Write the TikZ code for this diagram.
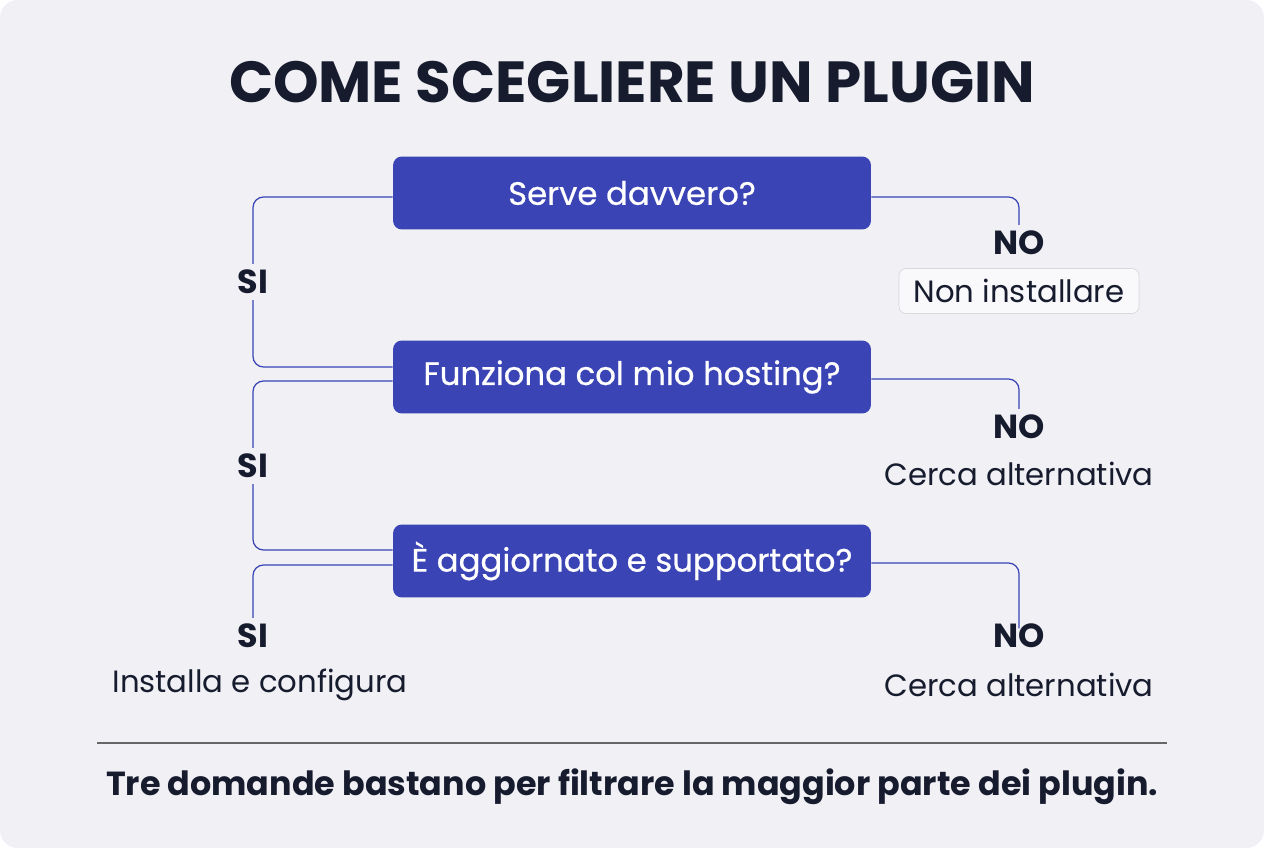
\documentclass[tikz,border=0pt]{standalone}
\usepackage{fontspec}
\setmainfont{Poppins}
\newfontfamily\medfont{Poppins}[FakeBold=0.6]
\usetikzlibrary{positioning}
\definecolor{boxblue}{HTML}{3A44B5}
\definecolor{linkblue}{HTML}{3A44B5}
\definecolor{inkdark}{HTML}{161B2E}
\definecolor{bgpaper}{HTML}{F0F0F5}
\begin{document}
\begin{tikzpicture}
	 [x=0.02cm,y=-0.02cm,
	  question/.style={rectangle,rounded corners=5pt,fill=boxblue,text=white,minimum width=9.56cm,minimum height=1.46cm,font=\medfont\fontsize{18.4}{20}\selectfont},
	  answer/.style={text=inkdark,font=\bfseries\fontsize{19}{22}\selectfont},
	  result/.style={text=inkdark,font=\fontsize{17.5}{20}\selectfont},
	  link/.style={draw=linkblue,line width=0.7pt,rounded corners=6pt}]
	\fill[bgpaper,rounded corners=10pt] (0,0) rectangle (1264,848);
	\useasboundingbox (0,0) rectangle (1264,848);

	\node[text=inkdark,font=\bfseries\fontsize{33}{38}\selectfont] (title) at (632,82) {COME SCEGLIERE UN PLUGIN};

	\node[question] (q1) at (632,193) {Serve davvero?};
	\node[question] (q2) at (632,377) {Funziona col mio hosting?};
	\node[question] (q3) at (632,561) {È aggiornato e supportato?};

	\node[answer] (si1) at (253,282) {SI};
	\node[answer] (si2) at (253,466) {SI};
	\node[answer] (si3) at (253,636) {SI};
	\node[answer] (no1) at (1019,243) {NO};
	\node[answer] (no2) at (1019,427) {NO};
	\node[answer] (no3) at (1019,636) {NO};

	\node[result,draw=black!15,fill=white!60!bgpaper,rounded corners=4pt,minimum width=4.8cm,minimum height=0.9cm] (r1) at (1019,291) {Non installare};
	\node[result] (r2) at (1019,474) {Cerca alternativa};
	\node[result] (r3) at (1019,685) {Cerca alternativa};
	\node[result] (r4) at (260,685) {Installa e configura};

	% SI branches
	\draw[link] (q1.west |- 0,197) -| (si1.north);
	\draw[link] (si1.south) |- (q2.west |- 0,367);
	\draw[link] (q2.west |- 0,381) -| (si2.north);
	\draw[link] (si2.south) |- (q3.west |- 0,550);
	\draw[link] (q3.west |- 0,565) -| (si3.north);

	% NO branches
	\draw[link] (q1.east |- 0,197) -| (no1.north);
	\draw[link] (q2.east |- 0,379) -| (no2.north);
	\draw[link] (q3.east |- 0,563) -| ([yshift=-6pt]no3.north);

	\coordinate (ruleL) at (97,743);
	\coordinate (ruleR) at (1167,743);
	\draw[black!60,line width=0.6pt] (ruleL) -- (ruleR);
	\node[text=inkdark,font=\bfseries\fontsize{19}{22}\selectfont] (foot) at (632,787) {Tre domande bastano per filtrare la maggior parte dei plugin.};
\end{tikzpicture}
\end{document}
